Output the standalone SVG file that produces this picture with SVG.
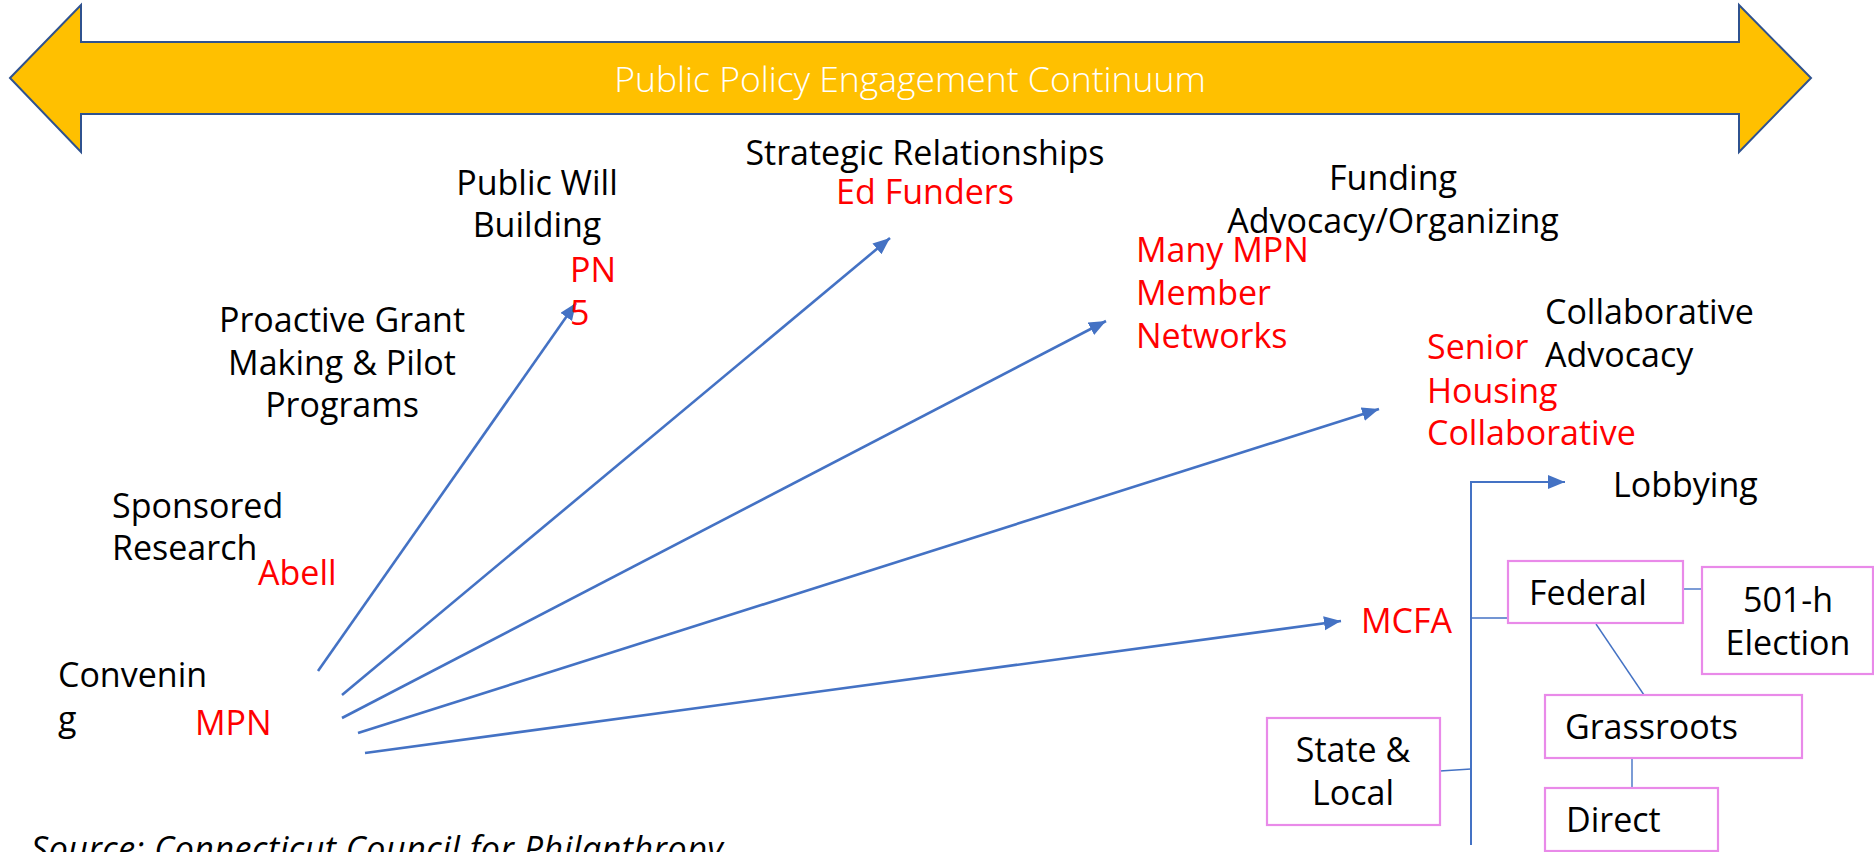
<svg xmlns="http://www.w3.org/2000/svg" width="1874" height="852" viewBox="0 0 1874 852">
<style>
text{font-family:"Open Sans","Noto Sans","DejaVu Sans",sans-serif;font-size:34px;}
.blk{fill:#000;}
.red{fill:#FF0000;}
.mid{text-anchor:middle;}
.title{fill:#fff;font-weight:300;font-size:35.5px;}
.src{font-style:italic;fill:#000;}
.fan{stroke:#4472C4;stroke-width:2.6;fill:none;}
.thin{stroke:#4472C4;stroke-width:1.4;fill:none;}
.elbow{stroke:#4472C4;stroke-width:2;fill:none;}
.box{fill:#fff;stroke:#E98AE9;stroke-width:2.2;}
</style>
<defs>
<marker id="ah" markerUnits="userSpaceOnUse" markerWidth="20" markerHeight="16" refX="17" refY="7" orient="auto">
<path d="M0,0 L17,7 L0,14 z" fill="#4472C4"/>
</marker>
</defs>
<rect width="1874" height="852" fill="#fff"/>

<g id="continuum">
<polygon points="10,78 81,5 81,42 1739,42 1739,5 1811,78 1739,152 1739,114 81,114 81,152" fill="#FFC000" stroke="#2F528F" stroke-width="2"/>
<text class="title mid" x="910" y="92">Public Policy Engagement Continuum</text>
</g>

<g id="connectors">
<line class="fan" x1="318" y1="671" x2="576" y2="303" marker-end="url(#ah)"/>
<line class="fan" x1="342" y1="695" x2="890" y2="238" marker-end="url(#ah)"/>
<line class="fan" x1="342" y1="718" x2="1106" y2="321" marker-end="url(#ah)"/>
<line class="fan" x1="358" y1="733" x2="1379" y2="409" marker-end="url(#ah)"/>
<line class="fan" x1="365" y1="753" x2="1341" y2="621" marker-end="url(#ah)"/>
<polyline class="elbow" points="1471,845 1471,482 1565,482" marker-end="url(#ah)"/>
<line class="thin" x1="1471" y1="618" x2="1523" y2="618"/>
<line class="thin" x1="1683" y1="589" x2="1702" y2="589"/>
<line class="thin" x1="1596" y1="624" x2="1644" y2="695"/>
<line class="thin" x1="1632" y1="754" x2="1632" y2="788"/>
<line class="thin" x1="1440" y1="771" x2="1471" y2="769"/>
</g>

<g id="convening">
<text class="blk" x="58" y="687">Convenin</text>
<text class="blk" x="58" y="731">g</text>
<text class="red" x="195" y="735">MPN</text>
</g>

<g id="sponsored-research">
<text class="blk" x="112" y="518">Sponsored</text>
<text class="blk" x="112" y="560">Research</text>
<text class="red" x="258" y="585">Abell</text>
</g>

<g id="proactive-grant">
<text class="blk mid" x="342" y="332">Proactive Grant</text>
<text class="blk mid" x="342" y="375">Making &amp; Pilot</text>
<text class="blk mid" x="342" y="417">Programs</text>
</g>

<g id="public-will">
<text class="blk mid" x="537" y="195">Public Will</text>
<text class="blk mid" x="537" y="237">Building</text>
<text class="red" x="570" y="282">PN</text>
<text class="red" x="570" y="325">5</text>
</g>

<g id="strategic-relationships">
<text class="blk mid" x="925" y="165">Strategic Relationships</text>
<text class="red mid" x="925" y="204">Ed Funders</text>
</g>

<g id="funding-advocacy">
<text class="blk mid" x="1393" y="190">Funding</text>
<text class="blk mid" x="1393" y="233">Advocacy/Organizing</text>
<text class="red" x="1136" y="262">Many MPN</text>
<text class="red" x="1136" y="305">Member</text>
<text class="red" x="1136" y="348">Networks</text>
</g>

<g id="collaborative-advocacy">
<text class="blk" x="1545" y="324">Collaborative</text>
<text class="blk" x="1545" y="367">Advocacy</text>
<text class="red" x="1427" y="359">Senior</text>
<text class="red" x="1427" y="403">Housing</text>
<text class="red" x="1427" y="445">Collaborative</text>
</g>

<g id="lobbying">
<text class="blk" x="1613" y="497">Lobbying</text>
<text class="red" x="1361" y="633">MCFA</text>
</g>

<g id="federal">
<rect class="box" x="1508" y="561" width="175" height="62"/>
<text class="blk" x="1529" y="605">Federal</text>
</g>

<g id="election-501h">
<rect class="box" x="1702" y="567" width="171" height="107"/>
<text class="blk mid" x="1788" y="612">501-h</text>
<text class="blk mid" x="1788" y="655">Election</text>
</g>

<g id="grassroots">
<rect class="box" x="1545" y="695" width="257" height="63"/>
<text class="blk" x="1565" y="739">Grassroots</text>
</g>

<g id="direct">
<rect class="box" x="1545" y="788" width="173" height="63"/>
<text class="blk" x="1566" y="832">Direct</text>
</g>

<g id="state-local">
<rect class="box" x="1267" y="718" width="173" height="107"/>
<text class="blk mid" x="1353" y="762">State &amp;</text>
<text class="blk mid" x="1353" y="805">Local</text>
</g>

<g id="source">
<text class="src" x="31" y="861" textLength="692" lengthAdjust="spacing">Source: Connecticut Council for Philanthropy</text>
</g>
</svg>
